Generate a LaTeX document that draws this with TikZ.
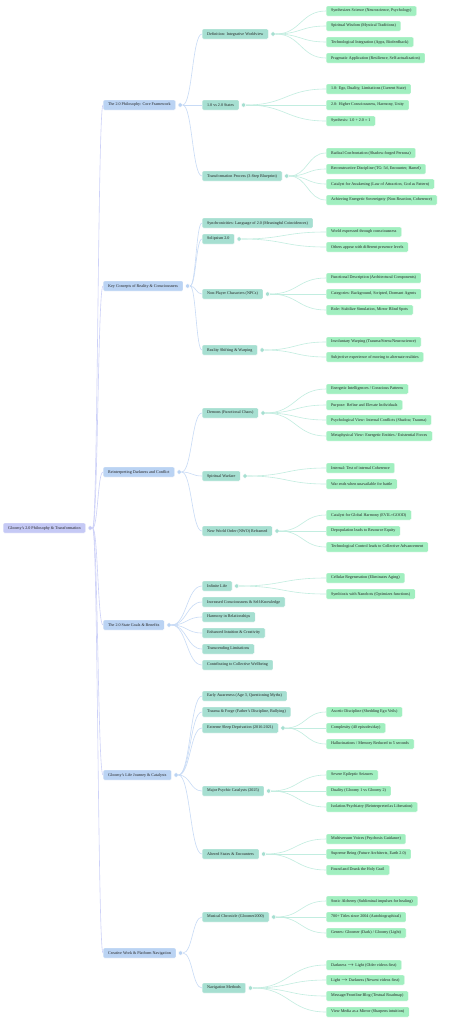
\documentclass[tikz,border=0pt]{standalone}
\usepackage{fontspec}
\setmainfont{Liberation Serif}
\usepackage{tikz}
\usetikzlibrary{calc,positioning}

\definecolor{rootfill}{HTML}{C5C9F5}
\definecolor{catfill}{HTML}{BAD3F3}
\definecolor{topicfill}{HTML}{A6DFD1}
\definecolor{leaffill}{HTML}{A1EFC0}
\definecolor{rootline}{HTML}{CDD1F8}
\definecolor{catline}{HTML}{C8DBF6}
\definecolor{topicline}{HTML}{C2EDE0}
\definecolor{inktext}{HTML}{222222}

\tikzset{
  basenode/.style={anchor=west, rounded corners=1.2pt, minimum height=10pt, inner xsep=5pt, inner ysep=0pt,
    draw=white, line width=0.3pt, text=inktext, font=\fontsize{4.1}{4.5}\selectfont},
  rootnode/.style={basenode, fill=rootfill},
  catnode/.style={basenode, fill=catfill},
  topicnode/.style={basenode, fill=topicfill},
  leafnode/.style={basenode, fill=leaffill},
  dot/.style={circle, inner sep=0pt, minimum size=4.4pt, draw=white, line width=0.5pt},
  link/.style={line width=0.6pt, to path={let \p1=(\tikztostart), \p2=(\tikztotarget) in
    .. controls ({(\x1+\x2)/2},\y1) and ({(\x1+\x2)/2},\y2) .. (\tikztotarget)}},
  rootlink/.style={link, draw=rootline},
  catlink/.style={link, draw=catline},
  topiclink/.style={link, draw=topicline},
}

\begin{document}
\begin{tikzpicture}[x=1pt, y=-1pt]
    \useasboundingbox[fill=white] (0,0) rectangle (449,1023);

    % Root
    \node[rootnode] (root) at (3,528) {Gloomy's 2.0 Philosophy \& Transformation};
    \node[dot, fill=rootfill] (rootdot) at ([xshift=4.5pt]root.east) {};

    % Categories
    \node[catnode] (core) at (103,105) {The 2.0 Philosophy: Core Framework};
    \node[catnode] (concepts) at (103,286) {Key Concepts of Reality \& Consciousness};
    \node[catnode] (darkness) at (103,472) {Reinterpreting Darkness and Conflict};
    \node[catnode] (goals) at (103,625) {The 2.0 State Goals \& Benefits};
    \node[catnode] (journey) at (103,775) {Gloomy's Life Journey \& Catalysts};
    \node[catnode] (creative) at (103,953) {Creative Work \& Platform Navigation};

    \node[dot, fill=catfill] (coredot) at ([xshift=4.5pt]core.east) {};
    \node[dot, fill=catfill] (conceptsdot) at ([xshift=4.5pt]concepts.east) {};
    \node[dot, fill=catfill] (darknessdot) at ([xshift=4.5pt]darkness.east) {};
    \node[dot, fill=catfill] (goalsdot) at ([xshift=4.5pt]goals.east) {};
    \node[dot, fill=catfill] (journeydot) at ([xshift=4.5pt]journey.east) {};
    \node[dot, fill=catfill] (creativedot) at ([xshift=4.5pt]creative.east) {};

    % Topics
    \node[topicnode] (defn) at (202,34) {Definition: Integrative Worldview};
    \node[topicnode] (states) at (202,105) {1.0 vs 2.0 States};
    \node[topicnode] (process) at (202,176) {Transformation Process (3-Step Blueprint)};
    \node[topicnode] (synchro) at (202,223) {Synchronicities: Language of 2.0 (Meaningful Coincidences)};
    \node[topicnode] (solips) at (202,239) {Solipsism 2.0};
    \node[topicnode] (npcs) at (202,294) {Non-Player Characters (NPCs)};
    \node[topicnode] (shifting) at (202,350) {Reality Shifting \& Warping};
    \node[topicnode] (demons) at (202,413) {Demons (Functional Chaos)};
    \node[topicnode] (warfare) at (202,476) {Spiritual Warfare};
    \node[topicnode] (nwo) at (202,531) {New World Order (NWO) Reframed};
    \node[topicnode] (life) at (202,586) {Infinite Life};
    \node[topicnode] (conscious) at (202,602) {Increased Consciousness \& Self-Knowledge};
    \node[topicnode] (harmony) at (202,617) {Harmony in Relationships};
    \node[topicnode] (intuition) at (202,633) {Enhanced Intuition \& Creativity};
    \node[topicnode] (transcend) at (202,649) {Transcending Limitations};
    \node[topicnode] (wellbeing) at (202,665) {Contributing to Collective Wellbeing};
    \node[topicnode] (early) at (202,696) {Early Awareness (Age 3, Questioning Myths)};
    \node[topicnode] (trauma) at (202,712) {Trauma \& Forge (Father's Discipline, Bullying)};
    \node[topicnode] (sleep) at (202,728) {Extreme Sleep Deprivation (2016-2021)};
    \node[topicnode] (psychic) at (202,791) {Major Psychic Catalysts (2025)};
    \node[topicnode] (altered) at (202,854) {Altered States \& Encounters};
    \node[topicnode] (music) at (202,917) {Musical Chronicle (Gloomer2000)};
    \node[topicnode] (navig) at (202,988) {Navigation Methods};

    \node[dot, fill=topicfill] (defndot) at ([xshift=4.5pt]defn.east) {};
    \node[dot, fill=topicfill] (statesdot) at ([xshift=4.5pt]states.east) {};
    \node[dot, fill=topicfill] (processdot) at ([xshift=4.5pt]process.east) {};
    \node[dot, fill=topicfill] (solipsdot) at ([xshift=4.5pt]solips.east) {};
    \node[dot, fill=topicfill] (npcsdot) at ([xshift=4.5pt]npcs.east) {};
    \node[dot, fill=topicfill] (shiftingdot) at ([xshift=4.5pt]shifting.east) {};
    \node[dot, fill=topicfill] (demonsdot) at ([xshift=4.5pt]demons.east) {};
    \node[dot, fill=topicfill] (warfaredot) at ([xshift=4.5pt]warfare.east) {};
    \node[dot, fill=topicfill] (nwodot) at ([xshift=4.5pt]nwo.east) {};
    \node[dot, fill=topicfill] (lifedot) at ([xshift=4.5pt]life.east) {};
    \node[dot, fill=topicfill] (sleepdot) at ([xshift=4.5pt]sleep.east) {};
    \node[dot, fill=topicfill] (psychicdot) at ([xshift=4.5pt]psychic.east) {};
    \node[dot, fill=topicfill] (altereddot) at ([xshift=4.5pt]altered.east) {};
    \node[dot, fill=topicfill] (musicdot) at ([xshift=4.5pt]music.east) {};
    \node[dot, fill=topicfill] (navigdot) at ([xshift=4.5pt]navig.east) {};

    % Leaves
    \node[leafnode] (defn1) at (326,11) {Synthesizes Science (Neuroscience, Psychology)};
    \node[leafnode] (defn2) at (326,26) {Spiritual Wisdom (Mystical Traditions)};
    \node[leafnode] (defn3) at (326,42) {Technological Integration (Apps, Biofeedback)};
    \node[leafnode] (defn4) at (326,58) {Pragmatic Application (Resilience, Self-actualization)};

    \node[leafnode] (states1) at (326,89) {1.0: Ego, Duality, Limitations (Current State)};
    \node[leafnode] (states2) at (326,105) {2.0: Higher Consciousness, Harmony, Unity};
    \node[leafnode] (states3) at (326,121) {Synthesis: 1.0 + 2.0 = 1};

    \node[leafnode] (process1) at (326,153) {Radical Confrontation (Shadow-forged Persona)};
    \node[leafnode] (process2) at (326,169) {Reconstructive Discipline (TG: 5d, Encounter, Hamel)};
    \node[leafnode] (process3) at (326,184) {Catalyst for Awakening (Law of Attraction, God as Pattern)};
    \node[leafnode] (process4) at (326,200) {Achieving Energetic Sovereignty (Non-Reaction, Coherence)};

    \node[leafnode] (solips1) at (326,232) {World expressed through consciousness};
    \node[leafnode] (solips2) at (326,247) {Others appear with different presence levels};

    \node[leafnode] (npcs1) at (326,278) {Functional Description (Architectural Components)};
    \node[leafnode] (npcs2) at (326,294) {Categories: Background, Scripted, Dormant Agents};
    \node[leafnode] (npcs3) at (326,310) {Role: Stabilize Simulation, Mirror Blind Spots};

    \node[leafnode] (shifting1) at (326,342) {Involuntary Warping (Trauma/Stress/Neuroscience)};
    \node[leafnode] (shifting2) at (326,357) {Subjective experience of moving to alternate realities};

    \node[leafnode] (demons1) at (326,389) {Energetic Intelligences / Conscious Patterns};
    \node[leafnode] (demons2) at (326,405) {Purpose: Refine and Elevate Individuals};
    \node[leafnode] (demons3) at (326,420) {Psychological View: Internal Conflicts (Shadow, Trauma)};
    \node[leafnode] (demons4) at (326,436) {Metaphysical View: Energetic Entities / Existential Forces};

    \node[leafnode] (warfare1) at (326,468) {Internal: Test of internal Coherence};
    \node[leafnode] (warfare2) at (326,484) {War ends when unavailable for battle};

    \node[leafnode] (nwo1) at (326,515) {Catalyst for Global Harmony (EVIL=GOOD)};
    \node[leafnode] (nwo2) at (326,531) {Depopulation leads to Resource Equity};
    \node[leafnode] (nwo3) at (326,547) {Technological Control leads to Collective Advancement};

    \node[leafnode] (life1) at (326,578) {Cellular Regeneration (Eliminates Aging)};
    \node[leafnode] (life2) at (326,594) {Symbiosis with Nanobots (Optimizes functions)};

    \node[leafnode] (sleep1) at (326,712) {Ascetic Discipline (Shedding Ego Veils)};
    \node[leafnode] (sleep2) at (326,728) {Complexity (40 episodes/day)};
    \node[leafnode] (sleep3) at (326,744) {Hallucinations / Memory Reduced to 5 seconds};

    \node[leafnode] (psychic1) at (326,775) {Severe Epileptic Seizures};
    \node[leafnode] (psychic2) at (326,791) {Duality (Gloomy 1 vs Gloomy 2)};
    \node[leafnode] (psychic3) at (326,807) {Isolation/Psychiatry (Reinterpreted as Liberation)};

    \node[leafnode] (altered1) at (326,839) {Multiversum Voices (Psychosis Guidance)};
    \node[leafnode] (altered2) at (326,854) {Supreme Being (Future Architects, Earth 2.0)};
    \node[leafnode] (altered3) at (326,870) {Found and Drank the Holy Grail};

    \node[leafnode] (music1) at (326,901) {Sonic Alchemy (Subliminal impulses for healing)};
    \node[leafnode] (music2) at (326,917) {700+ Titles since 2004 (Autobiographical)};
    \node[leafnode] (music3) at (326,933) {Genres: Gloomer (Dark) / Gloomy (Light)};

    \node[leafnode] (navig1) at (326,965) {Darkness $\rightarrow$ Light (Older videos first)};
    \node[leafnode] (navig2) at (326,980) {Light $\rightarrow$ Darkness (Newest videos first)};
    \node[leafnode] (navig3) at (326,996) {Message/Frontline Blog (Textual Roadmap)};
    \node[leafnode] (navig4) at (326,1012) {View Media as a Mirror (Sharpens intuition)};

    % Links from root
    \draw[rootlink] (rootdot.east) to (core.west);
    \draw[rootlink] (rootdot.east) to (concepts.west);
    \draw[rootlink] (rootdot.east) to (darkness.west);
    \draw[rootlink] (rootdot.east) to (goals.west);
    \draw[rootlink] (rootdot.east) to (journey.west);
    \draw[rootlink] (rootdot.east) to (creative.west);

    % Links from categories
    \draw[catlink] (coredot.east) to (defn.west);
    \draw[catlink] (coredot.east) to (states.west);
    \draw[catlink] (coredot.east) to (process.west);
    \draw[catlink] (conceptsdot.east) to (synchro.west);
    \draw[catlink] (conceptsdot.east) to (solips.west);
    \draw[catlink] (conceptsdot.east) to (npcs.west);
    \draw[catlink] (conceptsdot.east) to (shifting.west);
    \draw[catlink] (darknessdot.east) to (demons.west);
    \draw[catlink] (darknessdot.east) to (warfare.west);
    \draw[catlink] (darknessdot.east) to (nwo.west);
    \draw[catlink] (goalsdot.east) to (life.west);
    \draw[catlink] (goalsdot.east) to (conscious.west);
    \draw[catlink] (goalsdot.east) to (harmony.west);
    \draw[catlink] (goalsdot.east) to (intuition.west);
    \draw[catlink] (goalsdot.east) to (transcend.west);
    \draw[catlink] (goalsdot.east) to (wellbeing.west);
    \draw[catlink] (journeydot.east) to (early.west);
    \draw[catlink] (journeydot.east) to (trauma.west);
    \draw[catlink] (journeydot.east) to (sleep.west);
    \draw[catlink] (journeydot.east) to (psychic.west);
    \draw[catlink] (journeydot.east) to (altered.west);
    \draw[catlink] (creativedot.east) to (music.west);
    \draw[catlink] (creativedot.east) to (navig.west);

    % Links from topics
    \draw[topiclink] (defndot.east) to (defn1.west);
    \draw[topiclink] (defndot.east) to (defn2.west);
    \draw[topiclink] (defndot.east) to (defn3.west);
    \draw[topiclink] (defndot.east) to (defn4.west);
    \draw[topiclink] (statesdot.east) to (states1.west);
    \draw[topiclink] (statesdot.east) to (states2.west);
    \draw[topiclink] (statesdot.east) to (states3.west);
    \draw[topiclink] (processdot.east) to (process1.west);
    \draw[topiclink] (processdot.east) to (process2.west);
    \draw[topiclink] (processdot.east) to (process3.west);
    \draw[topiclink] (processdot.east) to (process4.west);
    \draw[topiclink] (solipsdot.east) to (solips1.west);
    \draw[topiclink] (solipsdot.east) to (solips2.west);
    \draw[topiclink] (npcsdot.east) to (npcs1.west);
    \draw[topiclink] (npcsdot.east) to (npcs2.west);
    \draw[topiclink] (npcsdot.east) to (npcs3.west);
    \draw[topiclink] (shiftingdot.east) to (shifting1.west);
    \draw[topiclink] (shiftingdot.east) to (shifting2.west);
    \draw[topiclink] (demonsdot.east) to (demons1.west);
    \draw[topiclink] (demonsdot.east) to (demons2.west);
    \draw[topiclink] (demonsdot.east) to (demons3.west);
    \draw[topiclink] (demonsdot.east) to (demons4.west);
    \draw[topiclink] (warfaredot.east) to (warfare1.west);
    \draw[topiclink] (warfaredot.east) to (warfare2.west);
    \draw[topiclink] (nwodot.east) to (nwo1.west);
    \draw[topiclink] (nwodot.east) to (nwo2.west);
    \draw[topiclink] (nwodot.east) to (nwo3.west);
    \draw[topiclink] (lifedot.east) to (life1.west);
    \draw[topiclink] (lifedot.east) to (life2.west);
    \draw[topiclink] (sleepdot.east) to (sleep1.west);
    \draw[topiclink] (sleepdot.east) to (sleep2.west);
    \draw[topiclink] (sleepdot.east) to (sleep3.west);
    \draw[topiclink] (psychicdot.east) to (psychic1.west);
    \draw[topiclink] (psychicdot.east) to (psychic2.west);
    \draw[topiclink] (psychicdot.east) to (psychic3.west);
    \draw[topiclink] (altereddot.east) to (altered1.west);
    \draw[topiclink] (altereddot.east) to (altered2.west);
    \draw[topiclink] (altereddot.east) to (altered3.west);
    \draw[topiclink] (musicdot.east) to (music1.west);
    \draw[topiclink] (musicdot.east) to (music2.west);
    \draw[topiclink] (musicdot.east) to (music3.west);
    \draw[topiclink] (navigdot.east) to (navig1.west);
    \draw[topiclink] (navigdot.east) to (navig2.west);
    \draw[topiclink] (navigdot.east) to (navig3.west);
    \draw[topiclink] (navigdot.east) to (navig4.west);

\end{tikzpicture}
\end{document}
